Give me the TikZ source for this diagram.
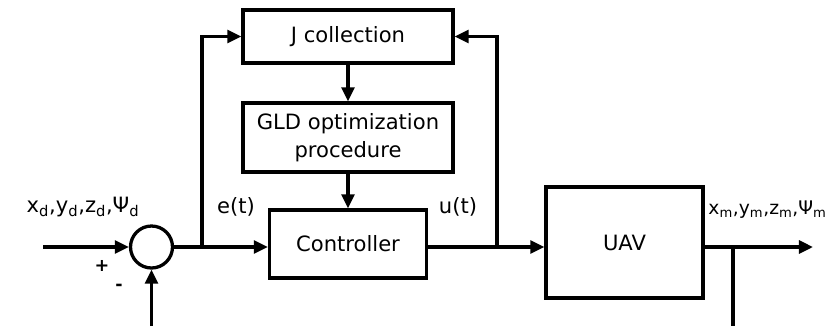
\documentclass[tikz,border=0pt]{standalone}
\usepackage{fontspec}
\setmainfont{DejaVu Sans}
\usetikzlibrary{arrows.meta}
\tikzset{
  block/.style={draw, line width=2.8pt, align=center, font=\fontsize{18}{24}\selectfont},
  sumpt/.style={draw, circle, line width=2.8pt, minimum size=12.6mm, inner sep=0pt},
  sig/.style={font=\fontsize{18}{22}\selectfont, inner sep=1pt},
  wire/.style={line width=2.8pt},
  link/.style={wire, -{Triangle[length=12pt,width=11pt]}}
}
\begin{document}
\begin{tikzpicture}[x=0.3mm,y=-0.3mm]
\useasboundingbox (0,0) rectangle (831,326);
% blocks of the loop
\node[block, minimum width=63mm, minimum height=15.9mm] (jcol) at (348,36.5) {J collection};
\node[block, minimum width=63mm, minimum height=20.7mm] (gld) at (348,137.5) {GLD optimization\\procedure};
\node[block, minimum width=47.1mm, minimum height=20.4mm] (ctrl) at (348,244) {Controller};
\node[block, minimum width=47.1mm, minimum height=33.3mm] (uav) at (624.5,242.5) {UAV};
\node[sumpt] (err) at (151.5,247) {};
% free ends and taps
\coordinate (ref) at (43,247);
\coordinate (meas) at (151.5,326);
\coordinate (etap) at (202,247);
\coordinate (utap) at (497,247);
\coordinate (ytap) at (733,247);
\coordinate (yend) at (813,247);
\coordinate (ybot) at (733,326);
%
\draw[link] (ref) -- (err);
\draw[link] (meas) -- (err);
\draw[link] (err) -- (ctrl.west |- err);
\draw[link] (etap) |- (jcol);
\draw[link] (ctrl.east |- err) -- (uav.west |- err);
\draw[link] (utap) |- (jcol);
\draw[link] (jcol) -- (gld);
\draw[link] (gld) -- (ctrl);
\draw[link] (uav.east |- err) -- (yend);
\draw[wire] (ytap) -- (ybot);
% signal labels
\node[sig] (xd) at (83,207) {x\textsubscript{d},y\textsubscript{d},z\textsubscript{d},Ψ\textsubscript{d}};
\node[sig, font=\fontsize{15}{18}\selectfont\bfseries] (plus) at (102,266) {+};
\node[sig, font=\fontsize{15}{18}\selectfont\bfseries] (minus) at (119,287) {-};
\node[sig] (et) at (236,207) {e(t)};
\node[sig] (ut) at (458,207) {u(t)};
\node[sig, anchor=west, font=\fontsize{16}{20}\selectfont] (xm) at (707,210) {x\textsubscript{m},y\textsubscript{m},z\textsubscript{m},Ψ\textsubscript{m}};
\end{tikzpicture}
\end{document}
